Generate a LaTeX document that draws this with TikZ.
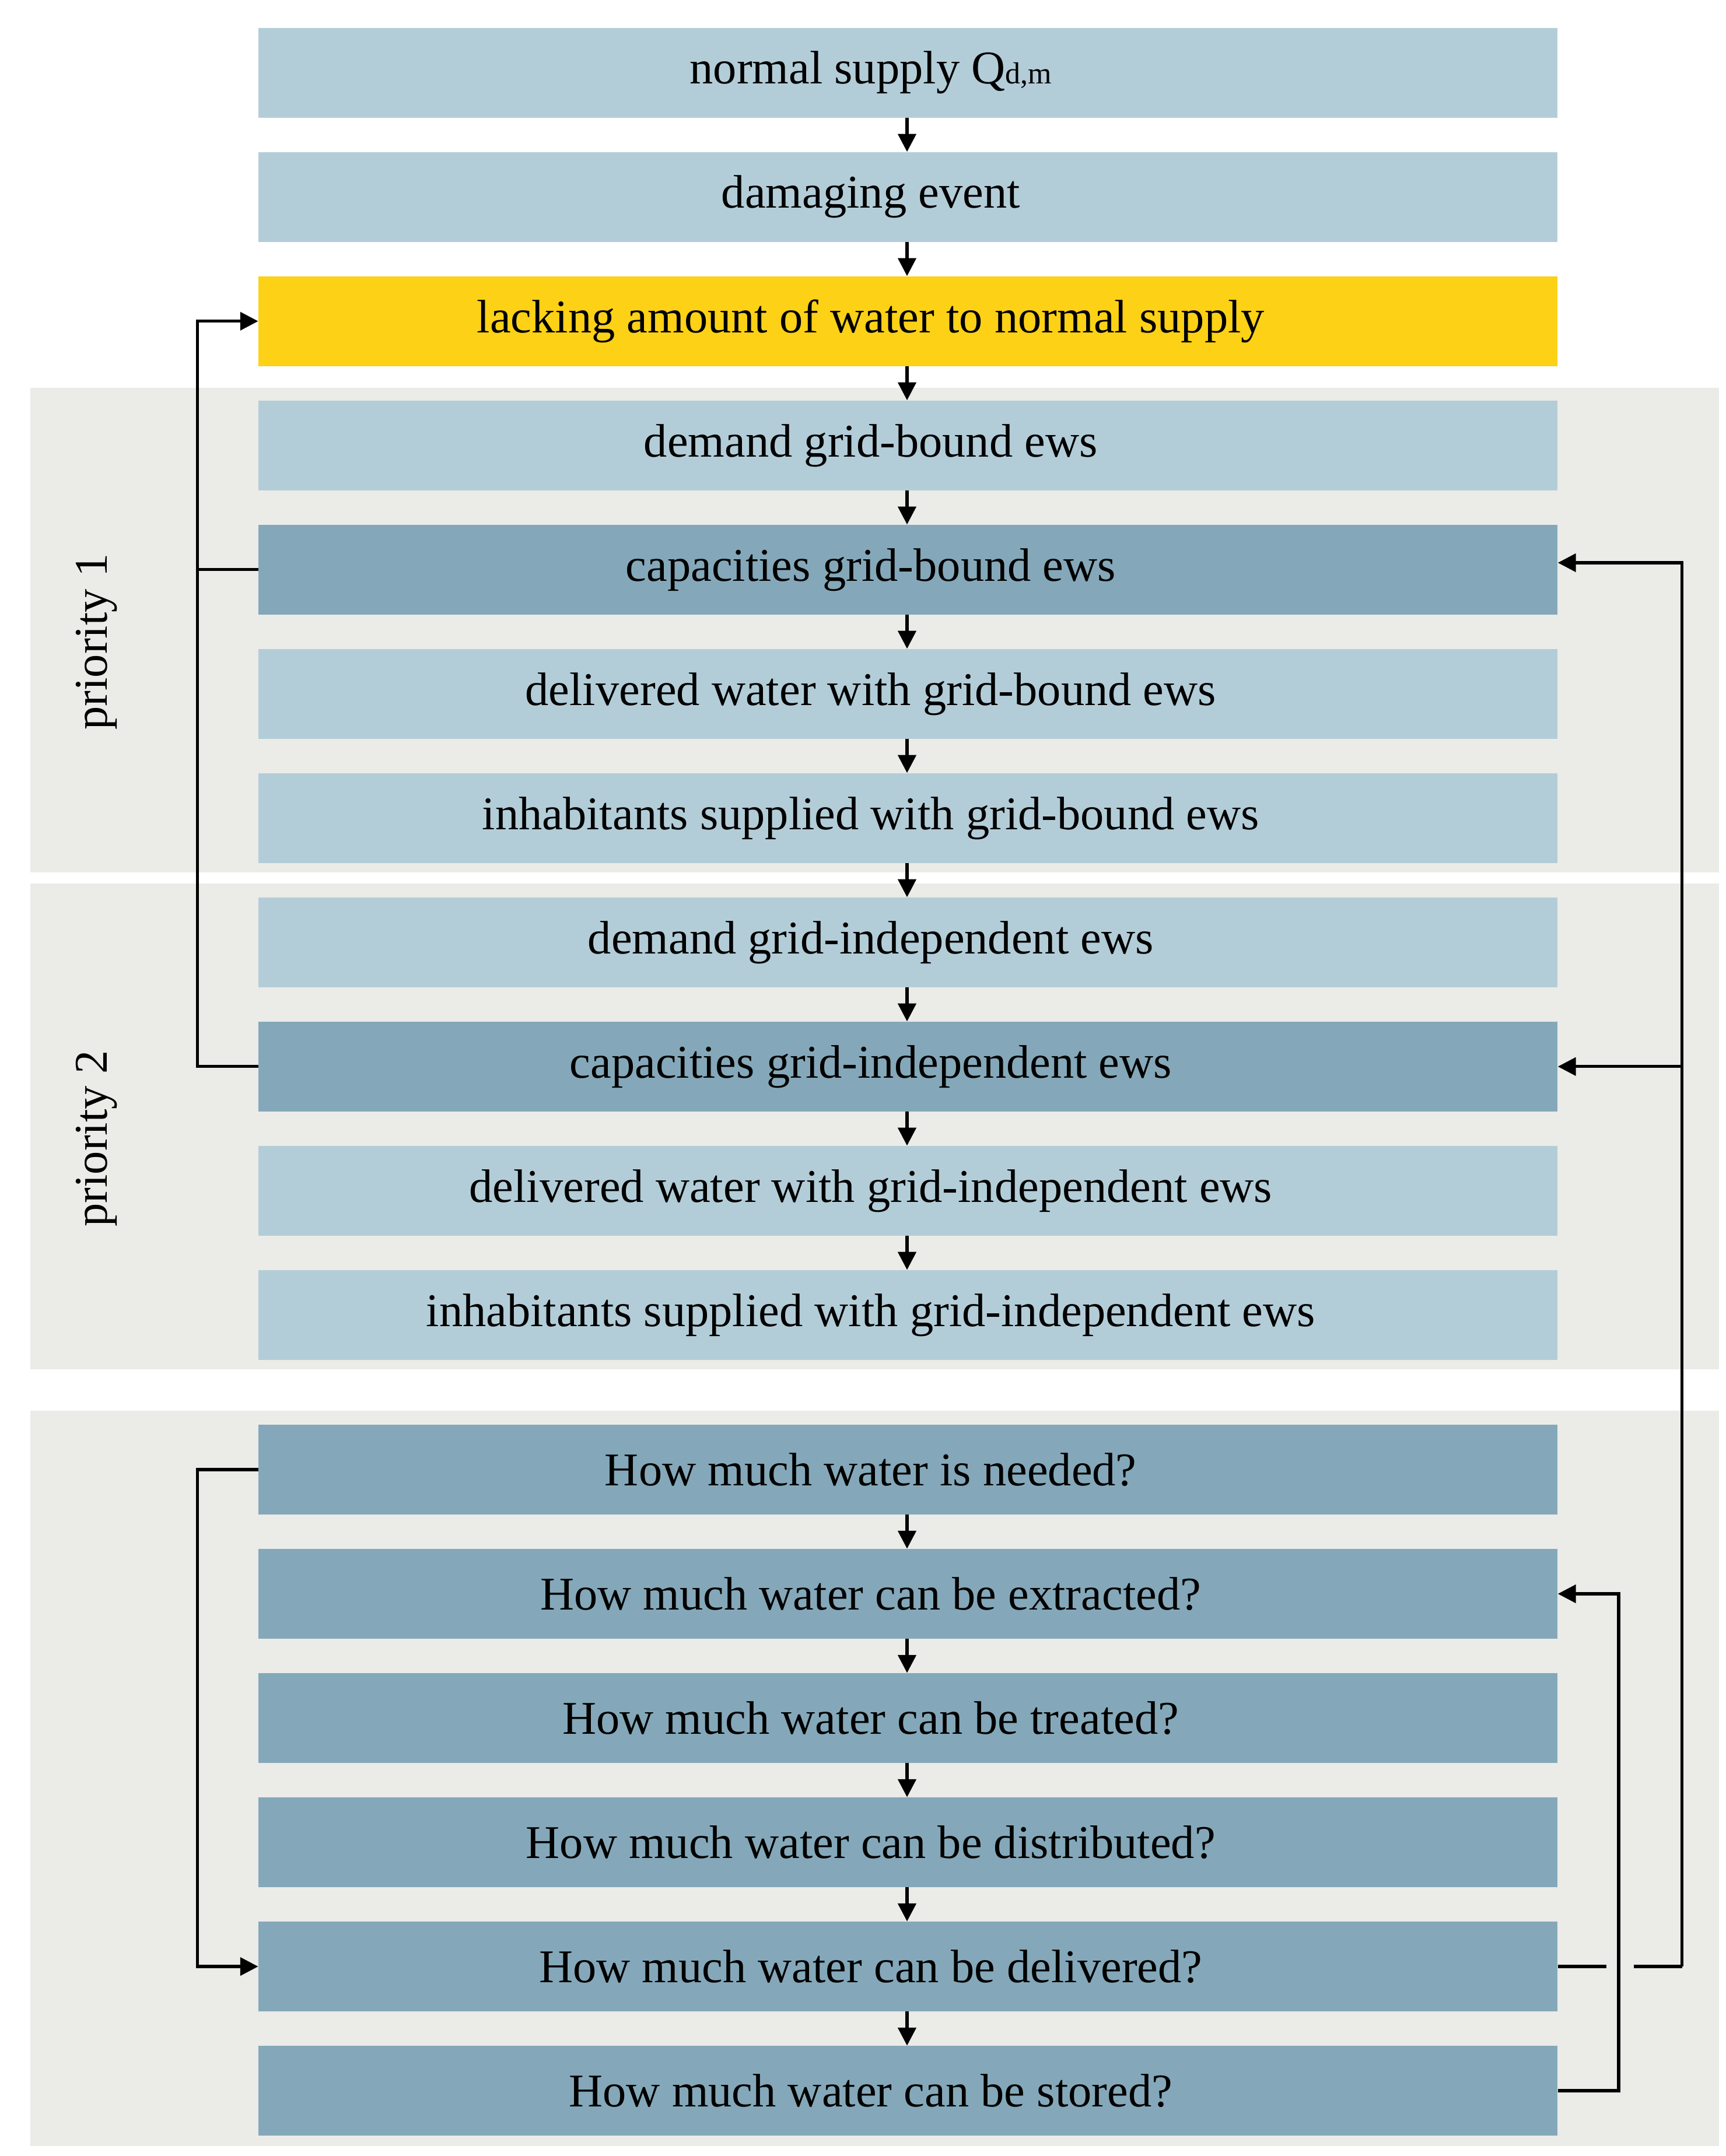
\documentclass[tikz,border=0pt]{standalone}
\usepackage{fontspec}
\setmainfont{Liberation Serif}
\usetikzlibrary{arrows.meta}
\definecolor{lb}{HTML}{B3CDD8}
\definecolor{db}{HTML}{84A8B9}
\definecolor{yl}{HTML}{FCD116}
\definecolor{bg}{HTML}{EBEBE8}
\begin{document}
\begin{tikzpicture}[x=1pt,y=-1pt,
  box/.style={minimum width=941pt,minimum height=65pt,inner sep=0pt,anchor=north west},
  lt/.style={box,fill=lb},dk/.style={box,fill=db},ye/.style={box,fill=yl},
  txt/.style={font=\fontsize{34}{40}\selectfont},
  arr/.style={-{Triangle[length=13pt,width=13pt]},line width=2.2pt},
  ln/.style={line width=2.2pt}]
\useasboundingbox (0,0) rectangle (1250,1562);
\fill[white] (0,0) rectangle (1250,1562);
\fill[bg] (22,281) rectangle (1245,632);
\fill[bg] (22,640) rectangle (1245,992);
\fill[bg] (22,1022) rectangle (1245,1555);
\node[rotate=90,txt] (p1) at (70,465) {priority 1};
\node[rotate=90,txt] (p2) at (70,825) {priority 2};
\foreach \n/\s/\t [count=\i from 0] in {
 r0/lt/{normal supply Q{\fontsize{22}{22}\selectfont d,m}},
 r1/lt/{damaging event},
 r2/ye/{lacking amount of water to normal supply},
 r3/lt/{demand grid-bound ews},
 r4/dk/{capacities grid-bound ews},
 r5/lt/{delivered water with grid-bound ews},
 r6/lt/{inhabitants supplied with grid-bound ews},
 r7/lt/{demand grid-independent ews},
 r8/dk/{capacities grid-independent ews},
 r9/lt/{delivered water with grid-independent ews},
 r10/lt/{inhabitants supplied with grid-independent ews}}{
 \node[\s] (\n) at (187,{20+90*\i}) {};
 \node[txt] at ([xshift=-27pt]\n.center) {\t};
}
\foreach \n/\t [count=\i from 0] in {
 q0/{How much water is needed?},
 q1/{How much water can be extracted?},
 q2/{How much water can be treated?},
 q3/{How much water can be distributed?},
 q4/{How much water can be delivered?},
 q5/{How much water can be stored?}}{
 \node[dk] (\n) at (187,{1032+90*\i}) {};
 \node[txt] at ([xshift=-27pt]\n.center) {\t};
}
\foreach \a/\b in {r0/r1,r1/r2,r2/r3,r3/r4,r4/r5,r5/r6,r6/r7,r7/r8,r8/r9,r9/r10,q0/q1,q1/q2,q2/q3,q3/q4,q4/q5}
 \draw[arr] ([xshift=470pt]\a.south west) -- ([xshift=470pt]\b.north west);
% left loops
\draw[ln] (r4.west) -- ++(-44,0);
\draw[arr] (r8.west) -- ++(-44,0) |- (r2.west);
\draw[arr] (q0.west) -- ++(-44,0) |- (q4.west);
% right loops
\coordinate (d1) at ([xshift=35pt]q4.east);
\coordinate (d2) at ([xshift=55pt]q4.east);
\coordinate (d3) at ([xshift=90pt]q4.east);
\draw[ln] (q4.east) -- (d1);
\draw[ln] (d2) -- (d3);
\draw[arr] (d3) |- ([yshift=5pt]r4.east);
\draw[arr] (d3 |- r8.east) -- (r8.east);
\draw[arr] (q5.east) -- ++(44,0) |- (q1.east);
\end{tikzpicture}
\end{document}
